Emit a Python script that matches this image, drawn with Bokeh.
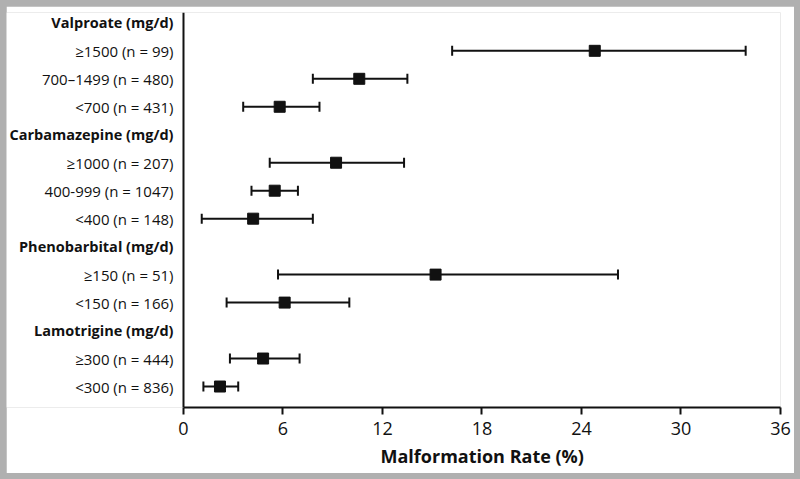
from bokeh.plotting import figure
from bokeh.models import (ColumnDataSource, Whisker, TeeHead, Range1d, FixedTicker,
                          Span, Title, GlobalInlineStyleSheet)
from bokeh.core.properties import value
from bokeh.embed import file_html
from bokeh.resources import INLINE

# ---- data ----
groups = ["Valproate (mg/d)", "Carbamazepine (mg/d)", "Phenobarbital (mg/d)", "Lamotrigine (mg/d)"]
group_rows = [0, 4, 8, 11]
dose_labels = ["≥1500 (n = 99)", "700–1499 (n = 480)", "<700 (n = 431)",
               "≥1000 (n = 207)", "400-999 (n = 1047)", "<400 (n = 148)",
               "≥150 (n = 51)", "<150 (n = 166)",
               "≥300 (n = 444)", "<300 (n = 836)"]
dose_rows = [1, 2, 3, 5, 6, 7, 9, 10, 12, 13]
rate = [24.8, 10.6, 5.8, 9.2, 5.5, 4.2, 15.2, 6.1, 4.8, 2.2]
ci_low = [16.2, 7.8, 3.6, 5.2, 4.1, 1.1, 5.7, 2.6, 2.8, 1.2]
ci_high = [33.9, 13.5, 8.2, 13.3, 6.9, 7.8, 26.2, 10.0, 7.0, 3.3]
x_ticks = [0, 6, 12, 18, 24, 30, 36]
x_title = "Malformation Rate (%)"

FONT = "Open Sans"
INK = "#111111"

# the frame also holds the row-label column (left of x = 0)
X_LEFT = -10.673

p = figure(width=788, height=467, output_backend="svg", toolbar_location=None,
           x_range=Range1d(X_LEFT, x_ticks[-1]), y_range=Range1d(13.75, -0.37),
           min_border_left=0, min_border_right=14, min_border_top=6,
           min_border_bottom=66)
p.background_fill_color = "white"
p.border_fill_color = "white"
p.outline_line_color = None
p.grid.visible = False
p.yaxis.visible = False
p.stylesheets = [GlobalInlineStyleSheet(
    css="html, body { background-color: #b0b0b0; margin: 0; padding: 0; } body { padding: 6px; }")]

# row labels
gsrc = ColumnDataSource(dict(x=[0] * len(groups), y=group_rows, t=groups))
dsrc = ColumnDataSource(dict(x=[0] * len(dose_labels), y=dose_rows, t=dose_labels))
p.text(x="x", y="y", text="t", source=gsrc, x_offset=-10, text_align="right",
       text_baseline="middle", text_font=value(FONT), text_font_size=value("14.5px"),
       text_font_style="bold", text_color=INK)
p.text(x="x", y="y", text="t", source=dsrc, x_offset=-10, text_align="right",
       text_baseline="middle", text_font=value(FONT), text_font_size=value("15px"),
       text_font_style="normal", text_color=INK)

# vertical axis line at x = 0
p.add_layout(Span(location=x_ticks[0], dimension="height", line_width=2, line_color=INK))

# error bars and points
src = ColumnDataSource(dict(y=dose_rows, rate=rate, lo=ci_low, hi=ci_high))
whisk = Whisker(source=src, base="y", lower="lo", upper="hi", dimension="width",
                line_width=2, line_color=INK,
                upper_head=TeeHead(size=10, line_width=2, line_color=INK),
                lower_head=TeeHead(size=10, line_width=2, line_color=INK))
p.add_layout(whisk)
p.scatter(x="rate", y="y", source=src, marker="square", size=11,
          fill_color=INK, line_color=INK)

# x axis limited to 0..36
xa = p.xaxis[0]
xa.bounds = (x_ticks[0], x_ticks[-1])
xa.ticker = FixedTicker(ticks=x_ticks)
xa.axis_line_width = 2
xa.axis_line_color = INK
xa.major_tick_line_width = 2
xa.major_tick_line_color = INK
xa.major_tick_out = 7
xa.major_tick_in = 0
xa.minor_tick_line_color = None
xa.major_label_text_font = FONT
xa.major_label_text_font_size = "18px"
xa.major_label_text_color = INK
xa.major_label_standoff = 7

# axis title under the 0..36 span
p.add_layout(Title(text=x_title, align="left", offset=374, standoff=8,
                   text_font=FONT, text_font_size="18px", text_font_style="bold",
                   text_color=INK), "below")

open("out.html", "w").write(file_html(p, INLINE))
